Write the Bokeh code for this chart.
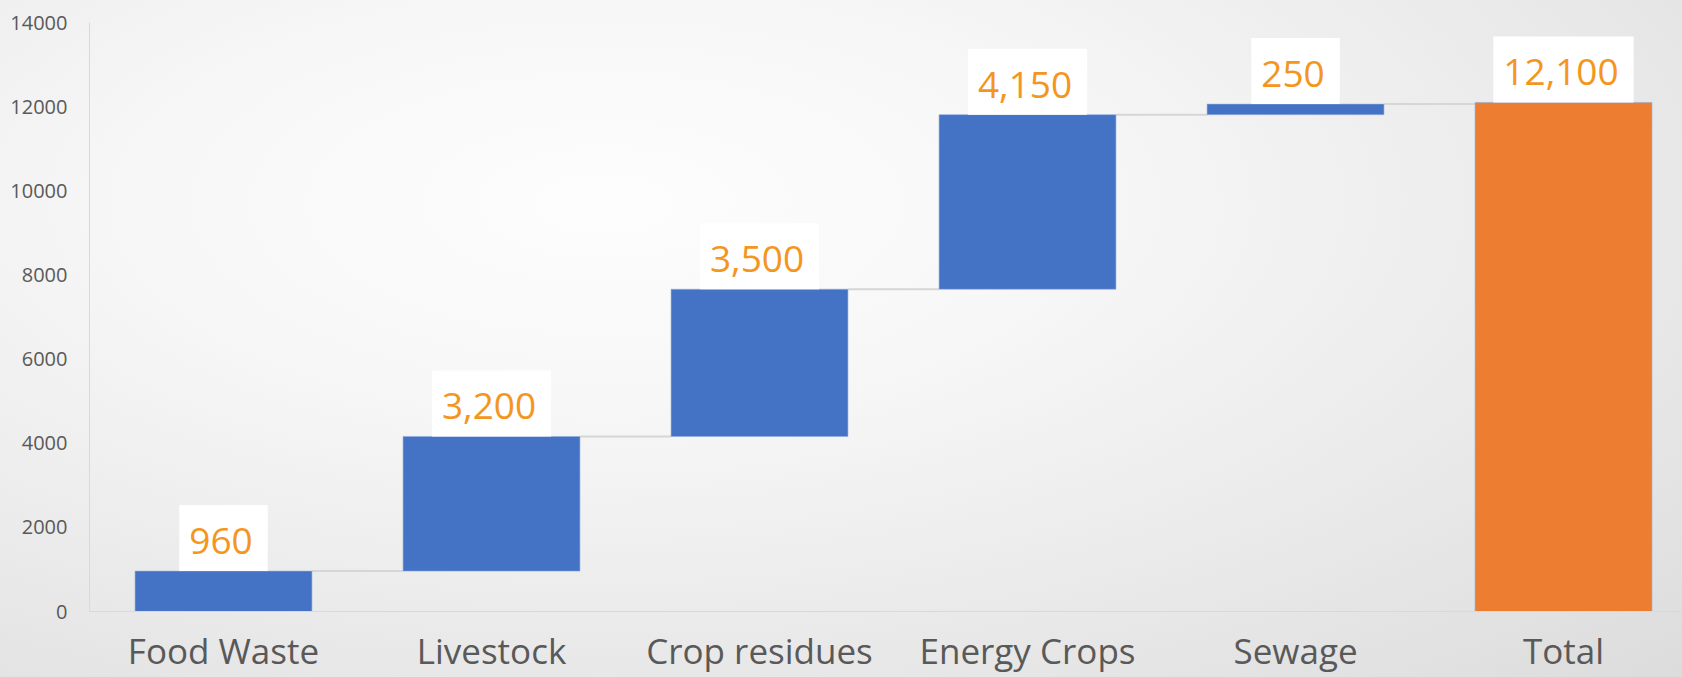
import numpy as np
from bokeh.plotting import figure
from bokeh.models import ColumnDataSource, FixedTicker, Range1d
from bokeh.core.properties import value
from bokeh.embed import file_html
from bokeh.resources import INLINE

# ---- data ----
categories = ["Food Waste", "Livestock", "Crop residues", "Energy Crops", "Sewage", "Total"]
increments = [960, 3200, 3500, 4150, 250]
total_value = 12100
label_texts = ["960", "3,200", "3,500", "4,150", "250", "12,100"]
y_ticks = [0, 2000, 4000, 6000, 8000, 10000, 12000, 14000]

BLUE = "#4472C4"
ORANGE = "#ED7D31"
LABEL_COLOR = "#F4961E"
AXIS_TEXT = "#595959"
BAR_W = 0.66

ends = np.cumsum(increments)
starts = ends - np.array(increments)
bottoms = list(starts) + [0]
tops = list(ends) + [total_value]
colors = [BLUE] * len(increments) + [ORANGE]
xs = list(range(len(categories)))

bars = ColumnDataSource(dict(x=xs, bottom=bottoms, top=tops, color=colors, label=label_texts))
conn = ColumnDataSource(dict(
    x0=[x + BAR_W / 2 for x in xs[:-1]],
    x1=[x + 1 - BAR_W / 2 for x in xs[:-1]],
    y=list(ends),
))

p = figure(width=1682, height=677,
           x_range=Range1d(-0.5, 5.444), y_range=Range1d(0, 14000),
           output_backend="svg", toolbar_location=None,
           min_border_left=89, min_border_right=0, min_border_top=22, min_border_bottom=66)

p.background_fill_alpha = 0
p.border_fill_alpha = 0
p.outline_line_color = None
p.styles = {"background-image": "radial-gradient(ellipse farthest-corner at 36% 30%, #fdfdfd 0%, #f7f7f7 30%, #ebebeb 62%, #dcdcdc 100%)"}
p.grid.visible = False

p.segment(x0="x0", y0="y", x1="x1", y1="y", source=conn, line_color="#d6d6d6", line_width=2)
p.vbar(x="x", bottom="bottom", top="top", width=BAR_W, fill_color="color",
       line_color="#8fabdc", line_alpha=0.6, line_width=1, source=bars)

p.text(x="x", y="top", text="label", source=bars,
       text_align="center", text_baseline="bottom",
       text_font=value("Open Sans"), text_font_size="37px", text_color=LABEL_COLOR,
       background_fill_color="white",
       padding=dict(left=10, right=15, top=23, bottom=17))

# x axis
xa = p.xaxis[0]
xa.ticker = FixedTicker(ticks=xs)
xa.major_label_overrides = {i: c for i, c in enumerate(categories)}
xa.major_label_text_font = "Open Sans"
xa.major_label_text_font_size = "35px"
xa.major_label_text_color = AXIS_TEXT
xa.major_label_standoff = 9
xa.major_tick_line_color = None
xa.minor_tick_line_color = None
xa.axis_line_color = "#d9d9d9"
xa.axis_line_width = 1

# y axis
ya = p.yaxis[0]
ya.ticker = FixedTicker(ticks=y_ticks)
ya.major_label_text_font = "Open Sans"
ya.major_label_text_font_size = "20px"
ya.major_label_text_color = AXIS_TEXT
ya.major_label_standoff = 16
ya.major_tick_line_color = None
ya.minor_tick_line_color = None
ya.axis_line_color = "#d9d9d9"
ya.axis_line_width = 1

open("out.html", "w").write(file_html(p, INLINE))
